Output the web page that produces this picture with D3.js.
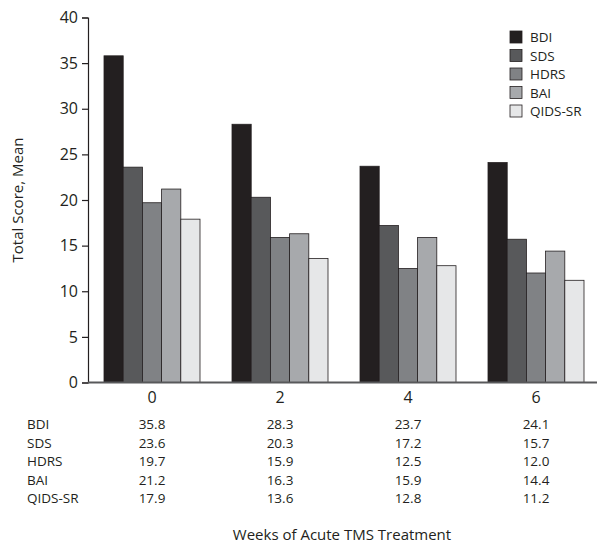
<!DOCTYPE html>
<html><head><meta charset="utf-8">
<script src="https://cdn.jsdelivr.net/npm/d3@7"></script>
<style>body{margin:0;background:#fff}svg{display:block}text{font-family:"Open Sans",sans-serif;fill:#231f20}</style>
</head><body><svg id="c" width="597" height="546"></svg>
<script>
const weeks = ["0","2","4","6"];
const seriesNames = ["BDI","SDS","HDRS","BAI","QIDS-SR"];
const BDI = [35.8,28.3,23.7,24.1];
const SDS = [23.6,20.3,17.2,15.7];
const HDRS = [19.7,15.9,12.5,12.0];
const BAI = [21.2,16.3,15.9,14.4];
const QIDS = [17.9,13.6,12.8,11.2];
const yTicks = [0,5,10,15,20,25,30,35,40];
const colors = ["#231f20","#58595b","#808285","#a7a9ac","#e6e7e8"];
const values = [BDI,SDS,HDRS,BAI,QIDS];

const svg = d3.select("#c");
const x = d3.scaleBand().domain(weeks).range([88,600]).paddingInner(0.25).paddingOuter(0.125);
const xs = d3.scaleBand().domain(seriesNames).range([0,x.bandwidth()]);
const y = d3.scaleLinear().domain([0,40]).range([382.5,17.5]);

// bars
weeks.forEach((w,i)=>{
  seriesNames.forEach((s,j)=>{
    svg.append("rect")
      .attr("x", x(w)+xs(s)).attr("y", y(values[j][i]))
      .attr("width", xs.bandwidth()).attr("height", y(0)-y(values[j][i]))
      .attr("fill", colors[j]).attr("stroke","#231f20").attr("stroke-width",0.8);
  });
});

// y axis
const ya = svg.append("g").attr("transform","translate(88,0)")
  .call(d3.axisLeft(y).tickValues(yTicks).tickSize(6).tickPadding(4));
ya.select(".domain").attr("stroke","#231f20").attr("stroke-width",1.2);
ya.selectAll(".tick line").attr("stroke","#231f20").attr("stroke-width",1.2);
ya.selectAll(".tick text").attr("font-size",16).attr("font-family","Open Sans, sans-serif").attr("fill","#231f20");

// x axis line
svg.append("line").attr("x1",88).attr("x2",597).attr("y1",y(0)).attr("y2",y(0))
  .attr("stroke","#58595b").attr("stroke-width",2);
svg.selectAll(".xl").data(weeks).enter().append("text")
  .attr("x",d=>x(d)+x.bandwidth()/2).attr("y",403).attr("text-anchor","middle")
  .attr("font-size",16).text(d=>d);

// y title
svg.append("text").attr("transform","translate(23,200) rotate(-90)")
  .attr("text-anchor","middle").attr("font-size",15).text("Total Score, Mean");

// table
seriesNames.forEach((s,j)=>{
  const yy = 429 + j*18.5;
  svg.append("text").attr("x",27).attr("y",yy).attr("font-size",13.5).text(s);
  weeks.forEach((w,i)=>{
    svg.append("text").attr("x",x(w)+x.bandwidth()/2).attr("y",yy).attr("text-anchor","middle")
      .attr("font-size",13.5).text(values[j][i].toFixed(1));
  });
});

svg.append("text").attr("x",342).attr("y",540).attr("text-anchor","middle")
  .attr("font-size",15).text("Weeks of Acute TMS Treatment");

// legend
seriesNames.forEach((s,j)=>{
  const yy = 31 + j*18.5;
  svg.append("rect").attr("x",510).attr("y",yy).attr("width",12).attr("height",12)
    .attr("fill",colors[j]).attr("stroke","#231f20").attr("stroke-width",0.8);
  svg.append("text").attr("x",530).attr("y",yy+11).attr("font-size",13.5).text(s);
});
</script></body></html>
